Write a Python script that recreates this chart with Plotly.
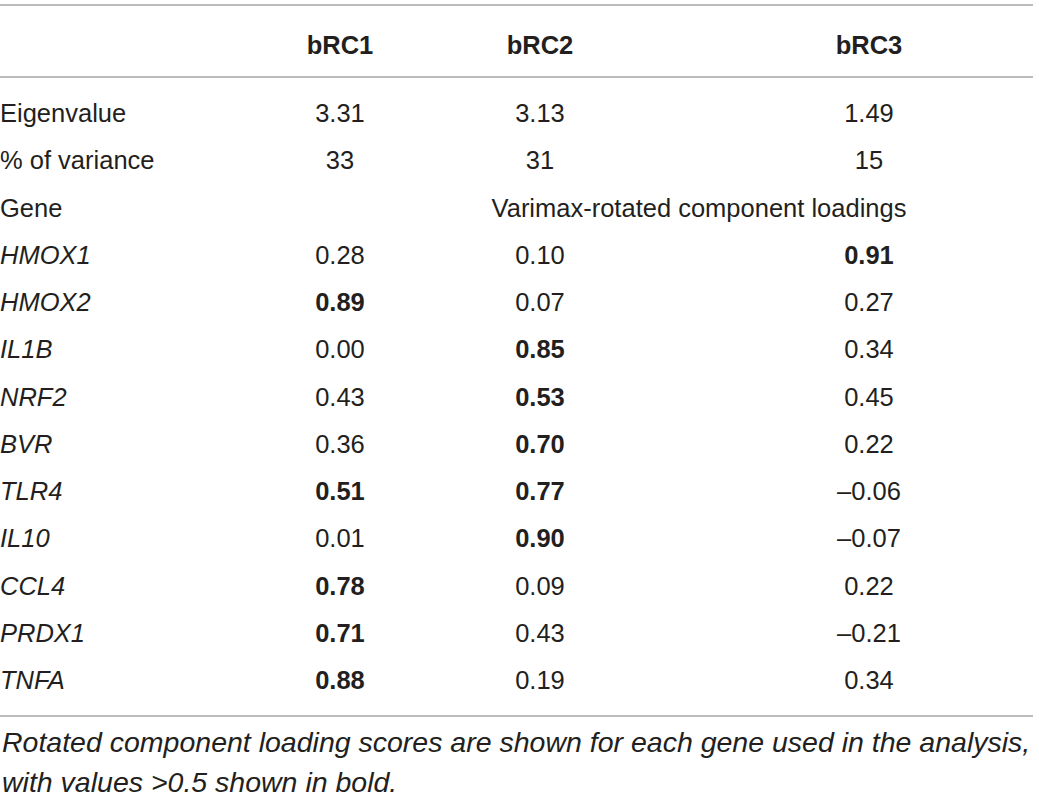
import plotly.graph_objects as go

# table content
components = ["bRC1", "bRC2", "bRC3"]
eigenvalues = [3.31, 3.13, 1.49]
pct_variance = [33, 31, 15]
genes = ["HMOX1", "HMOX2", "IL1B", "NRF2", "BVR", "TLR4", "IL10", "CCL4", "PRDX1", "TNFA"]
brc1 = [0.28, 0.89, 0.00, 0.43, 0.36, 0.51, 0.01, 0.78, 0.71, 0.88]
brc2 = [0.10, 0.07, 0.85, 0.53, 0.70, 0.77, 0.90, 0.09, 0.43, 0.19]
brc3 = [0.91, 0.27, 0.34, 0.45, 0.22, -0.06, -0.07, 0.22, -0.21, 0.34]
loadings_title = "Varimax-rotated component loadings"
footnote = ["Rotated component loading scores are shown for each gene used in the analysis,",
            "with values >0.5 shown in bold."]

FONT = "Liberation Sans"
SIZE = 25.5
NOTE_SIZE = 28.5
TXT = "#231f20"
RULE = "#a6a6a6"
col_x = [340, 540, 869]   # column centres (px)
# rows: 0 = Eigenvalue, 1 = % of variance, 2 = Gene, 3.. = genes
nudge = 0.06              # small downward shift of text inside a row
header_row = -1.44 + nudge


def fmt(v):
    s = f"{abs(v):.2f}"
    s = ("\u2013" + s) if v < 0 else s
    return f"<b>{s}</b>" if v > 0.5 else s


fig = go.Figure()
font = dict(family=FONT, size=SIZE, color=TXT)

# left column labels
labels = ["Eigenvalue", "% of variance", "Gene"] + [f"<i>{g}</i>" for g in genes]
fig.add_trace(go.Scatter(
    x=[0] * len(labels), y=[i + nudge for i in range(len(labels))], mode="text",
    text=labels, textposition="middle right", textfont=font, hoverinfo="skip"))

# header
fig.add_trace(go.Scatter(
    x=col_x, y=[header_row] * 3, mode="text",
    text=[f"<b>{c}</b>" for c in components], textposition="middle center",
    textfont=font, hoverinfo="skip"))

# values per component
for j, vals in enumerate([brc1, brc2, brc3]):
    txt = [f"{eigenvalues[j]:.2f}", f"{pct_variance[j]}"] + [fmt(v) for v in vals]
    ys = [0, 1] + list(range(3, 3 + len(vals)))
    fig.add_trace(go.Scatter(
        x=[col_x[j]] * len(txt), y=[y + nudge for y in ys], mode="text",
        text=txt, textposition="middle center", textfont=font, hoverinfo="skip"))

# spanning label on the Gene row
fig.add_trace(go.Scatter(
    x=[699], y=[2 + nudge], mode="text", text=[loadings_title],
    textposition="middle center", textfont=font, hoverinfo="skip"))

# horizontal rules
for yy in [-2.286, -0.762, 12.762]:
    fig.add_shape(type="line", xref="paper", x0=0, x1=1033 / 1039, yref="y", y0=yy, y1=yy,
                  line=dict(color=RULE, width=1.5))

# footnote
for k, line in enumerate(footnote):
    fig.add_annotation(x=0, y=[13.31, 14.16][k], xref="x", yref="y",
                       text=f"<i>{line}</i>", showarrow=False,
                       xanchor="left", yanchor="middle",
                       font=dict(family=FONT, size=NOTE_SIZE, color=TXT))

fig.update_xaxes(range=[0, 1039], visible=False, fixedrange=True)
fig.update_yaxes(range=[14.476, -2.392], visible=False, fixedrange=True)
fig.update_layout(
    width=1039, height=797,
    margin=dict(l=0, r=0, t=0, b=0),
    paper_bgcolor="white", plot_bgcolor="white",
    showlegend=False,
)

fig.write_html("out.html", config={"displayModeBar": False},
               post_script="document.body.style.margin='0';")
